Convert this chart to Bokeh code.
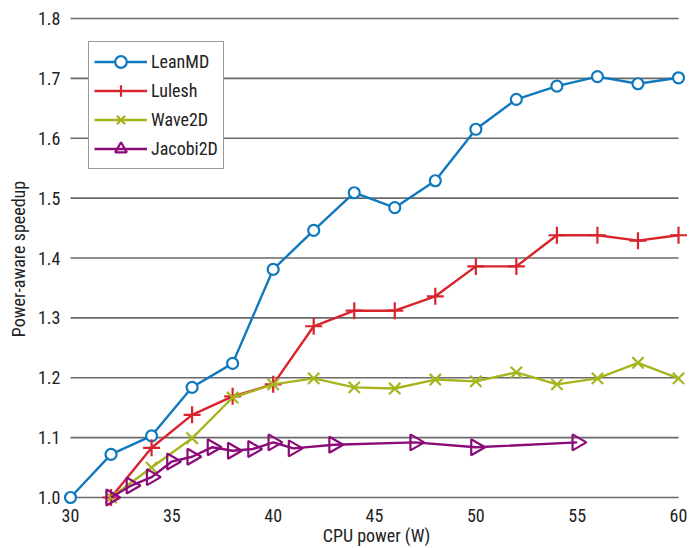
import math
from bokeh.plotting import figure
from bokeh.models import FixedTicker, PrintfTickFormatter
from bokeh.embed import file_html
from bokeh.resources import INLINE

# ---- data ----
leanmd_power = [30, 32, 34, 36, 38, 40, 42, 44, 46, 48, 50, 52, 54, 56, 58, 60]
leanmd = [1.000, 1.072, 1.103, 1.184, 1.224, 1.381, 1.446, 1.509, 1.484, 1.529,
          1.615, 1.665, 1.687, 1.703, 1.691, 1.701]

lulesh_power = [32, 34, 36, 38, 40, 42, 44, 46, 48, 50, 52, 54, 56, 58, 60]
lulesh = [1.000, 1.083, 1.138, 1.169, 1.189, 1.286, 1.312, 1.312, 1.336, 1.386,
          1.386, 1.438, 1.438, 1.429, 1.438]

wave_power = [32, 34, 36, 38, 40, 42, 44, 46, 48, 50, 52, 54, 56, 58, 60]
wave2d = [1.000, 1.050, 1.099, 1.167, 1.189, 1.199, 1.184, 1.182, 1.197, 1.194,
          1.209, 1.189, 1.199, 1.225, 1.199]

jacobi_power = [32, 33, 34, 35, 36, 37, 38, 39, 40, 41, 43, 47, 50, 55]
jacobi2d = [1.000, 1.020, 1.034, 1.060, 1.068, 1.084, 1.078, 1.081, 1.092, 1.082,
            1.088, 1.092, 1.084, 1.092]

x_ticks = [30, 35, 40, 45, 50, 55, 60]
y_ticks = [1.0, 1.1, 1.2, 1.3, 1.4, 1.5, 1.6, 1.7, 1.8]

FONT = "Liberation Sans Narrow, Roboto Condensed, DejaVu Sans Condensed, Liberation Sans, sans-serif"
TEXT = "#222222"

p = figure(width=689, height=548, x_range=(29.6546, 60.5426), y_range=(0.9833, 1.81336),
           min_border_left=63, min_border_right=0, min_border_top=10, min_border_bottom=41,
           toolbar_location=None, output_backend="svg", outline_line_color=None,
           background_fill_color="white", border_fill_color="white")

p.xgrid.visible = False
p.ygrid.visible = False

# horizontal grid lines spanning the power range
xmin = min(leanmd_power)
xmax = max(leanmd_power)
p.segment(x0=[xmin] * len(y_ticks), x1=[xmax] * len(y_ticks), y0=y_ticks, y1=y_ticks,
          line_color="#6a6a6a", line_width=1.6)

for ax in (p.xaxis[0], p.yaxis[0]):
    ax.axis_line_color = None
    ax.major_tick_line_color = None
    ax.minor_tick_line_color = None
    ax.major_label_text_font = FONT
    ax.major_label_text_font_size = "18px"
    ax.major_label_text_color = TEXT
    ax.axis_label_text_font = FONT
    ax.axis_label_text_font_size = "18px"
    ax.axis_label_text_font_style = "normal"
    ax.axis_label_text_color = TEXT

p.xaxis.ticker = FixedTicker(ticks=x_ticks)
p.xaxis.major_label_standoff = -5
p.xaxis.axis_label = "CPU power (W)"
p.xaxis.axis_label_standoff = 0
p.yaxis.ticker = FixedTicker(ticks=y_ticks)
p.yaxis.formatter = PrintfTickFormatter(format="%.1f")
p.yaxis.major_label_standoff = -3
p.yaxis.axis_label = "Power-aware speedup"
p.yaxis.axis_label_standoff = 6

series = [
    ("LeanMD", leanmd_power, leanmd, "#1079bd", "circle", 11, "white", 1.0, 0),
    ("Lulesh", lulesh_power, lulesh, "#d8242c", "cross", 17, None, 0.0, 0),
    ("Wave2D", wave_power, wave2d, "#a6b51e", "x", 16, None, 0.0, 0),
    ("Jacobi2D", jacobi_power, jacobi2d, "#8c0b7a", "triangle", 16, None, 0.0, -math.pi / 2),
]

for name, xs, ys, color, marker, size, fill, falpha, ang in series:
    p.line(xs, ys, line_color=color, line_width=2.4, legend_label=name)
    p.scatter(xs, ys, marker=marker, size=size, line_color=color, line_width=2.2,
              fill_color=fill if fill else "white", fill_alpha=falpha, angle=ang,
              legend_label=name)

lg = p.legend[0]
lg.location = (25, 338)
lg.label_text_font = FONT
lg.label_text_font_size = "18px"
lg.label_text_color = TEXT
lg.glyph_width = 53
lg.glyph_height = 29
lg.label_height = 29
lg.label_standoff = 4
lg.spacing = 0
lg.padding = 5
lg.margin = 0
lg.border_line_color = "#333333"
lg.border_line_width = 1.5
lg.background_fill_color = "white"
lg.background_fill_alpha = 1.0

open("out.html", "w").write(file_html(p, INLINE))
